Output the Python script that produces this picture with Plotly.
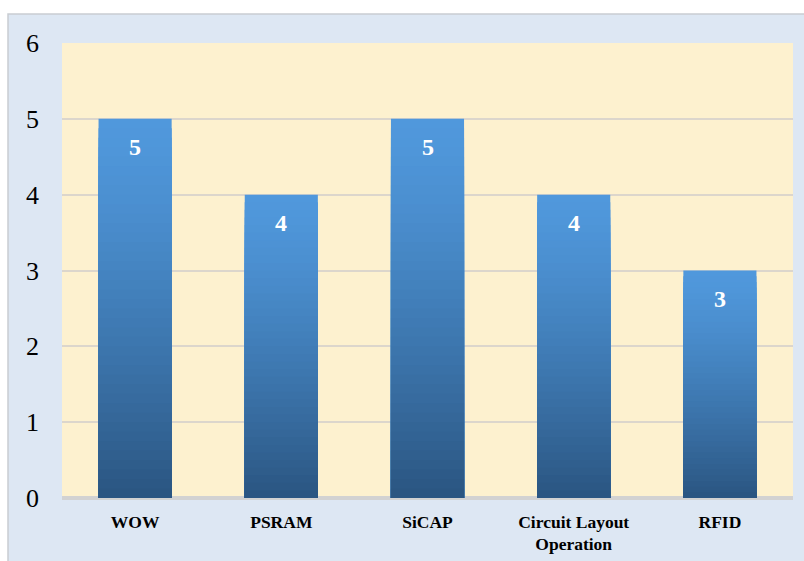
import plotly.graph_objects as go

categories = ["WOW", "PSRAM", "SiCAP", "Circuit Layout<br>Operation", "RFID"]
values = [5, 4, 5, 4, 3]
y_ticks = [0, 1, 2, 3, 4, 5, 6]

SERIF = "Liberation Serif, Times New Roman, serif"

def lerp(c1, c2, t):
    return "rgb(%d,%d,%d)" % tuple(round(a + (b - a) * t) for a, b in zip(c1, c2))

light = (80, 152, 220)
dark = (43, 86, 130)
N = 40

fig = go.Figure()
for k in range(N):
    f = 1 - k / N
    t = (k / (N - 1)) ** 1.3
    fig.add_trace(go.Bar(
        x=categories,
        y=[v * f for v in values],
        marker=dict(color=lerp(light, dark, t), line=dict(width=0)),
        hoverinfo="skip",
        showlegend=False,
    ))

for c, v in zip(categories, values):
    fig.add_annotation(x=c, y=v, text="<b>%d</b>" % v, showarrow=False,
                       yshift=-28, font=dict(family=SERIF, size=24, color="white"))

L, R, T, B = 62, 11, 43, 63
W, H = 804 - L - R, 561 - T - B
def px_x(p):
    return (p - L) / W
def px_y(p):
    return (H + T - p) / H

# white strips outside the blue panel
fig.add_shape(type="rect", xref="paper", yref="paper", layer="below",
              x0=px_x(-5), x1=px_x(8), y0=px_y(570), y1=px_y(-5),
              fillcolor="white", line=dict(width=0))
fig.add_shape(type="rect", xref="paper", yref="paper", layer="below",
              x0=px_x(-5), x1=px_x(810), y0=px_y(14), y1=px_y(-5),
              fillcolor="white", line=dict(width=0))
# panel border
fig.add_shape(type="rect", xref="paper", yref="paper", layer="above",
              x0=px_x(8), x1=px_x(812), y0=px_y(570), y1=px_y(14),
              fillcolor="rgba(0,0,0,0)", line=dict(color="#c9cdd2", width=1.5))

fig.update_layout(
    width=804, height=561,
    margin=dict(l=L, r=R, t=T, b=B, autoexpand=False),
    paper_bgcolor="#dde7f3",
    plot_bgcolor="#fdf1cf",
    barmode="overlay",
    bargap=0.5,
    font=dict(family=SERIF, color="black"),
    xaxis=dict(showgrid=False, showline=False, ticks="", automargin=False,
               tickfont=dict(family=SERIF, size=17.5, color="black", weight="bold"),
               ticklabelstandoff=11),
    yaxis=dict(range=[0, 6], tickvals=y_ticks, showgrid=True, automargin=False,
               gridcolor="#dcd6cc", gridwidth=1.5,
               zeroline=True, zerolinecolor="#d2d2d2", zerolinewidth=4,
               tickfont=dict(family=SERIF, size=26, color="black"),
               ticklabelstandoff=22, ticks=""),
)

fig.write_html("out.html", config={"displayModeBar": False},
               post_script="document.body.style.margin='0';")
